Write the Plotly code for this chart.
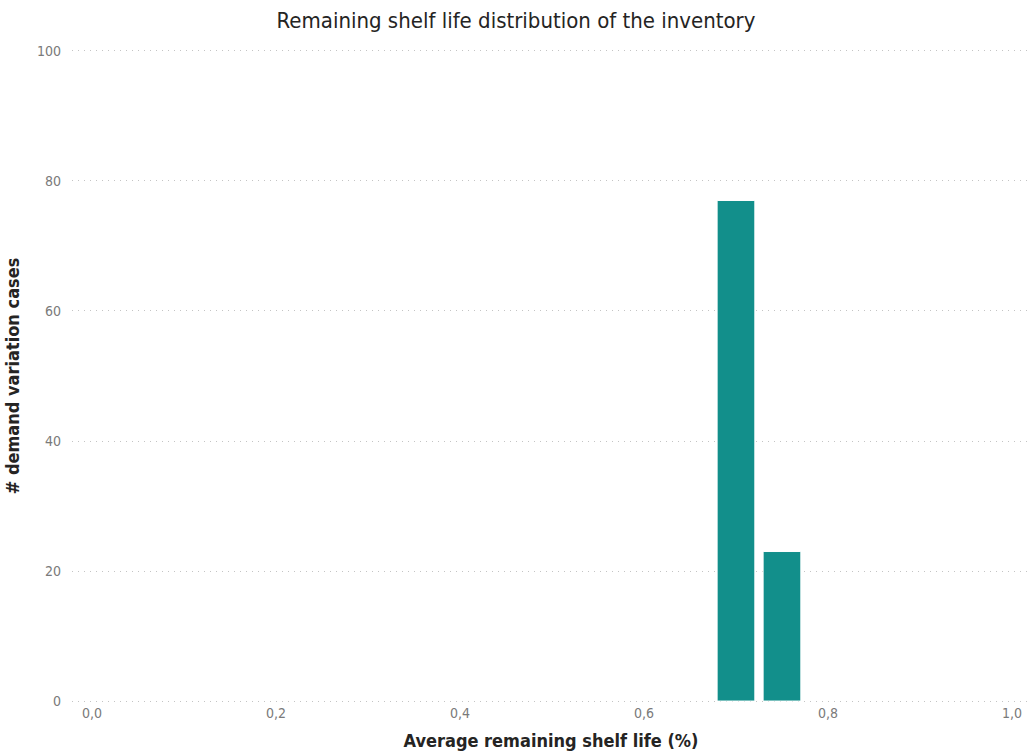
import plotly.graph_objects as go

shelf_life = [0.70, 0.75]
cases = [77, 23]
bar_width = 0.041

x_ticks = [0.0, 0.2, 0.4, 0.6, 0.8, 1.0]
y_ticks = [0, 20, 40, 60, 80, 100]

FONT = "DejaVu Sans Condensed, DejaVu Sans, sans-serif"

fig = go.Figure(
    go.Bar(
        x=shelf_life,
        y=cases,
        width=[bar_width] * len(shelf_life),
        marker=dict(color="#128F8B", line=dict(color="#FFFFFF", width=1)),
    )
)

fig.update_layout(
    width=1032,
    height=756,
    paper_bgcolor="white",
    plot_bgcolor="white",
    separators=",.",
    margin=dict(l=72, r=2, t=49, b=53),
    showlegend=False,
    title=dict(
        text="Remaining shelf life distribution of the inventory",
        x=0.5,
        xanchor="center",
        y=0.973,
        yanchor="middle",
        font=dict(family=FONT, size=22, color="#252423"),
    ),
    font=dict(family=FONT),
)

fig.update_xaxes(
    range=[-0.0217, 1.0196],
    tickvals=x_ticks,
    tickformat=".1f",
    showgrid=False,
    zeroline=False,
    showline=False,
    ticks="",
    tickfont=dict(size=14, color="#7A7A7A"),
    title=dict(
        text="Average remaining shelf life (%)",
        font=dict(size=18, color="#252423", weight="bold"),
        standoff=14,
    ),
)

fig.update_yaxes(
    range=[-0.3, 100.3],
    tickvals=y_ticks,
    showgrid=True,
    gridcolor="#C4C4C4",
    griddash="1px,5px",
    gridwidth=1.2,
    zeroline=False,
    showline=False,
    ticks="",
    ticklabelstandoff=10,
    tickfont=dict(size=14, color="#7A7A7A"),
    title=dict(
        text="# demand variation cases",
        font=dict(size=18, color="#252423", weight="bold"),
        standoff=12,
    ),
)

fig.write_html("out.html")
